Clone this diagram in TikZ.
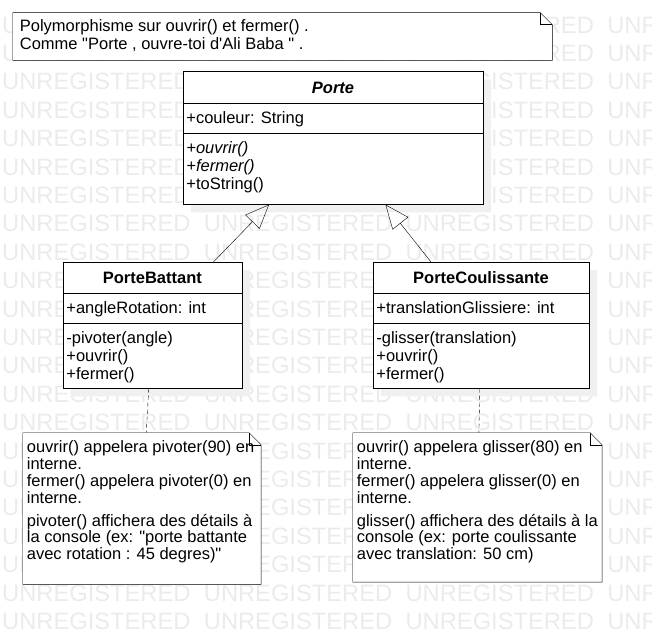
\documentclass[tikz,border=0pt]{standalone}
\usepackage{fontspec}
\setmainfont{Liberation Sans}[Ligatures=TeXOff]
\usetikzlibrary{shapes, arrows.meta, shadows}

\pgfdeclarelayer{watermark}
\pgfdeclarelayer{notepaper}
\pgfsetlayers{watermark,notepaper,main}

% one compartment of a box: [first baseline]{width}{height}{lines}
\newcommand{\umlpart}[4][20]{\parbox[c][#3pt][t]{#2pt}{\rule{0pt}{#1pt}#4}}

\begin{document}
\begin{tikzpicture}[x=1pt, y=-1pt, line width=1.2pt,
    umlclass/.style={rectangle split, rectangle split parts=3, draw=black, fill=white, inner xsep=3.5pt, inner ysep=0pt, anchor=north west, font=\fontsize{16.5}{18}\selectfont, drop shadow={shadow xshift=8pt, shadow yshift=-8pt, fill=black!6, opacity=1}},
    umlnote/.style={rectangle, inner xsep=4pt, inner ysep=0pt, anchor=north west, font=\fontsize{16.5}{16.8}\selectfont},
    inherits/.style={-{Triangle[open, length=24pt, width=20pt]}},
    noteline/.style={dash pattern=on 4pt off 3pt}]
    \useasboundingbox (0,0) rectangle (652,636);

    % Watermark
    \begin{pgfonlayer}{watermark}
    \begin{scope}
        \clip (0,0) rectangle (652,636);
        \foreach \row in {0,...,21}
            \foreach \col in {0,...,3}
                \node (wm-\row-\col) [anchor=west, inner sep=0pt, text=black!8, font=\fontsize{23.7}{24}\selectfont] at (2+201.7*\col, 25+28.4*\row) {UNREGISTERED};
    \end{scope}
    \end{pgfonlayer}

    % Define classes
    \node (porte) [umlclass] at (182.7,71.5) {\umlpart[21.5]{293.3}{31.5}{\centering\textbf{\textit{Porte}}}
        \nodepart{two}\umlpart[19.5]{293.3}{29}{+couleur: String}
        \nodepart{three}\umlpart{293.3}{71}{\textit{+ouvrir()}\\\textit{+fermer()}\\+toString()}};
    \node (battant) [umlclass] at (62.7,262) {\umlpart[21.5]{172}{31}{\centering\textbf{PorteBattant}}
        \nodepart{two}\umlpart[19.5]{172}{29}{+angleRotation: int}
        \nodepart{three}\umlpart{172}{65}{-pivoter(angle)\\+ouvrir()\\+fermer()}};
    \node (coulissante) [umlclass] at (372.7,262) {\umlpart[21.5]{209.3}{31}{\centering\textbf{PorteCoulissante}}
        \nodepart{two}\umlpart[19.5]{209.3}{29}{+translationGlissiere: int}
        \nodepart{three}\umlpart{209.3}{65}{-glisser(translation)\\+ouvrir()\\+fermer()}};

    % Define notes
    \node (notePolymorphisme) [umlnote, inner xsep=7pt, font=\fontsize{16.5}{17.5}\selectfont] at (12.7,12.7) {\umlpart[19]{525.3}{47.3}{Polymorphisme sur ouvrir() et fermer() .\\Comme "Porte , ouvre-toi d'Ali Baba " .}};
    \node (noteBattant) [umlnote] at (22.7,432.7) {\umlpart{230}{151.3}{ouvrir() appelera pivoter(90) en\\interne.\\fermer() appelera pivoter(0) en\\interne.\\[6pt]pivoter() affichera des détails à\\la console (ex: "porte battante\\avec rotation : 45 degres)"}};
    \node (noteCoulissante) [umlnote] at (352.7,432.7) {\umlpart{241}{149}{ouvrir() appelera glisser(80) en\\interne.\\fermer() appelera glisser(0) en\\interne.\\[6pt]glisser() affichera des détails à la\\console (ex: porte coulissante\\avec translation: 50 cm)}};

    % Note paper with folded corner
    \begin{pgfonlayer}{notepaper}
    \foreach \n in {notePolymorphisme, noteBattant, noteCoulissante} {
        \draw[fill=white] (\n.north west) -- ([xshift=-12pt]\n.north east) -- ([yshift=-12pt]\n.north east) -- (\n.south east) -- (\n.south west) -- cycle;
        \draw ([xshift=-12pt]\n.north east) |- ([yshift=-12pt]\n.north east);
    }
    \end{pgfonlayer}

    % Connect nodes
    \draw[inherits] (battant) -- (porte);
    \draw[inherits] (coulissante) -- (porte);
    \draw[noteline] (battant) -- (noteBattant);
    \draw[noteline] (coulissante) -- (noteCoulissante);
\end{tikzpicture}
\end{document}
